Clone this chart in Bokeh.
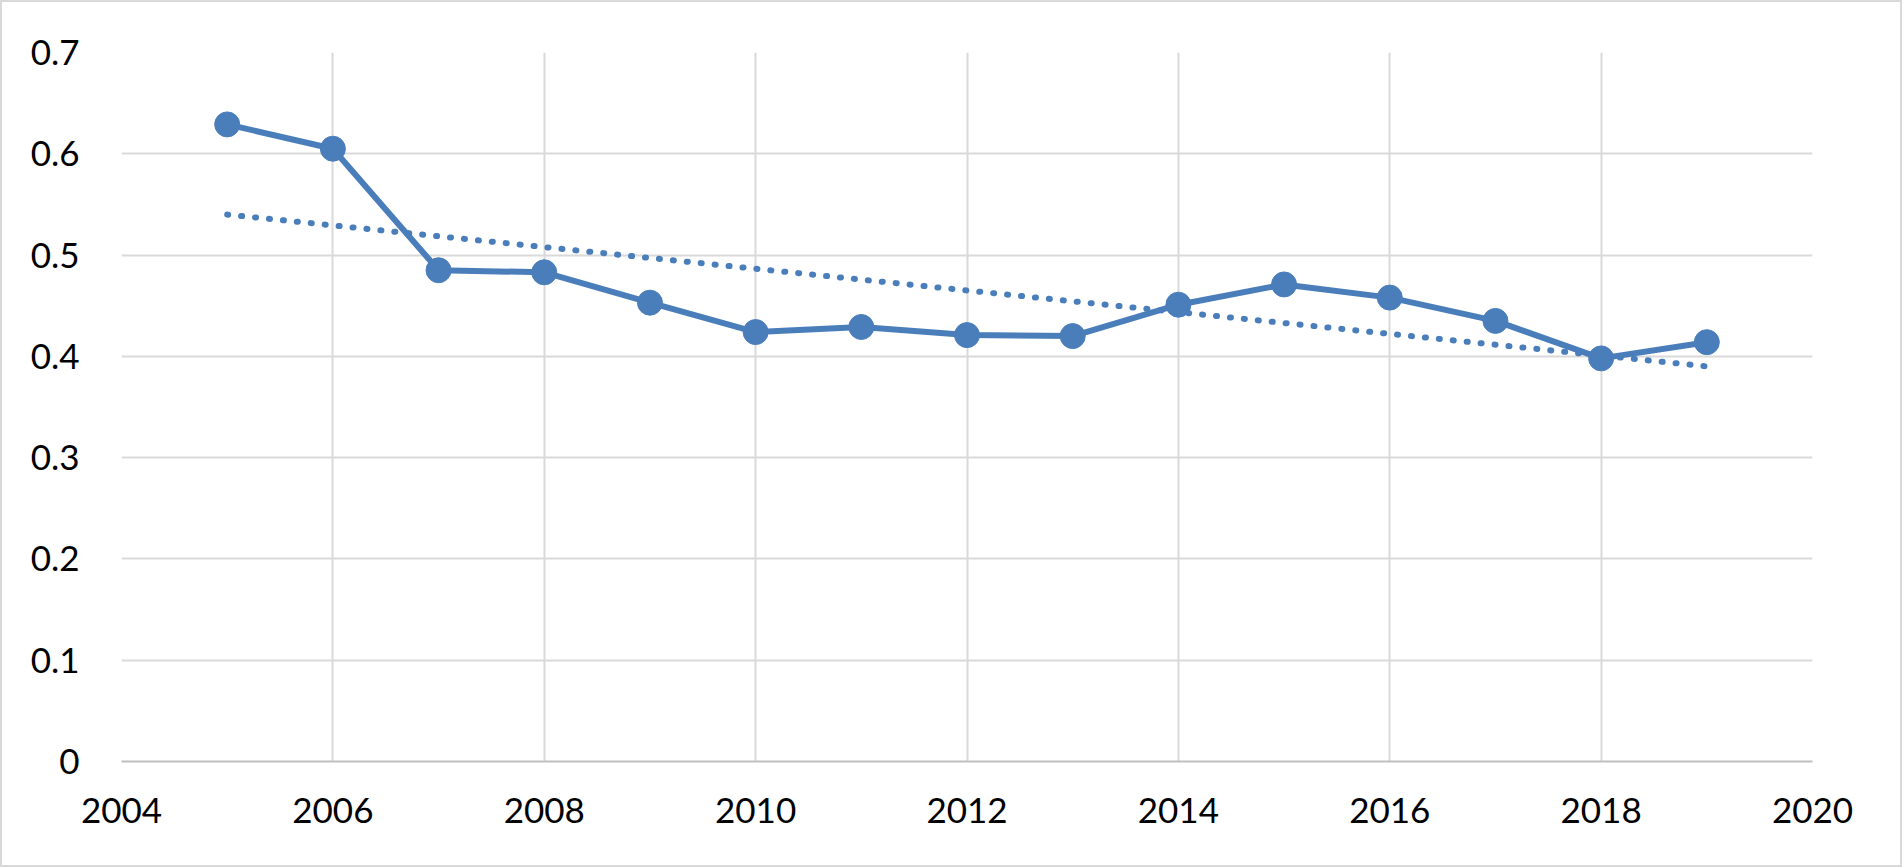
import numpy as np
from bokeh.plotting import figure
from bokeh.models import Range1d, FixedTicker
from bokeh.embed import file_html
from bokeh.resources import INLINE

years = [2005, 2006, 2007, 2008, 2009, 2010, 2011, 2012, 2013, 2014, 2015, 2016, 2017, 2018, 2019]
values = [0.629, 0.605, 0.485, 0.483, 0.453, 0.424, 0.429, 0.421, 0.420, 0.451, 0.471, 0.458, 0.435, 0.398, 0.414]
x_ticks = [2004, 2006, 2008, 2010, 2012, 2014, 2016, 2018, 2020]
y_ticks = [0, 0.1, 0.2, 0.3, 0.4, 0.5, 0.6, 0.7]
y_tick_labels = ["0", "0.1", "0.2", "0.3", "0.4", "0.5", "0.6", "0.7"]

# Linear trendline (least squares, as in a spreadsheet trendline)
slope, intercept = np.polyfit(years, values, 1)
trend_x = [years[0], years[-1]]
trend_y = [slope * x + intercept for x in trend_x]

BLUE = "#4a7ebb"
FONT = "Lato"

p = figure(width=1902, height=867, output_backend="svg", toolbar_location=None,
           x_range=Range1d(2004, 2020), y_range=Range1d(0, 0.7),
           min_border_left=119, min_border_right=92, min_border_top=50, min_border_bottom=108)
p.styles = {"border": "2px solid #d9d9d9"}
p.outline_line_color = None

p.xaxis.ticker = FixedTicker(ticks=x_ticks)
p.yaxis.ticker = FixedTicker(ticks=y_ticks)
p.yaxis.major_label_overrides = {t: l for t, l in zip(y_ticks, y_tick_labels)}

for ax in (p.xaxis, p.yaxis):
    ax.major_tick_line_color = None
    ax.minor_tick_line_color = None
    ax.major_label_text_font = FONT
    ax.major_label_text_font_size = "35px"
    ax.major_label_text_color = "#000000"
p.xaxis.axis_line_color = "#bfbfbf"
p.xaxis.axis_line_width = 2
p.yaxis.axis_line_color = None
p.xaxis.major_label_standoff = 30
p.yaxis.major_label_standoff = 36

p.xgrid.grid_line_color = "#d9d9d9"
p.ygrid.grid_line_color = "#d9d9d9"
p.xgrid.grid_line_width = 2
p.ygrid.grid_line_width = 2

p.line(trend_x, trend_y, line_color=BLUE, line_width=6, line_dash="1 13", line_cap="round")
p.line(years, values, line_color=BLUE, line_width=6)
p.scatter(years, values, size=25, fill_color=BLUE, line_color=BLUE)

open("out.html", "w").write(file_html(p, INLINE))
